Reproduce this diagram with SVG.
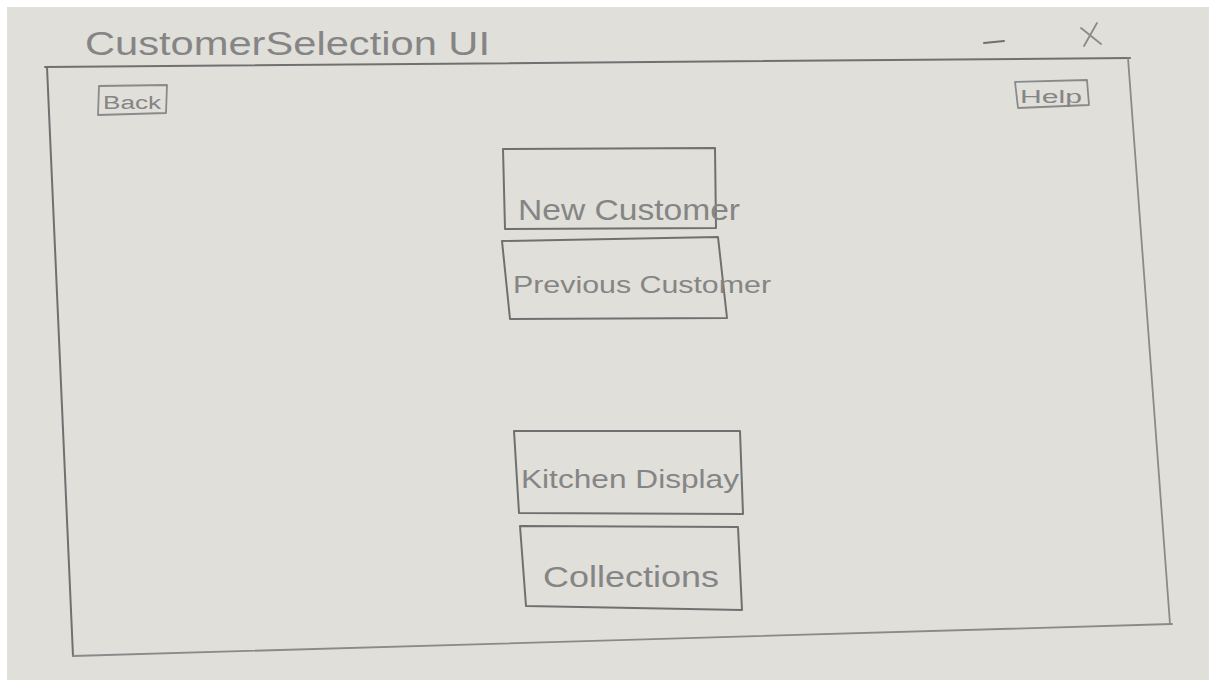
<svg xmlns="http://www.w3.org/2000/svg" width="1209" height="680" viewBox="0 0 1209 680">
<style>
.ln{fill:none;stroke:#707070;stroke-width:2;stroke-linecap:round;stroke-linejoin:round}
.lt{fill:none;stroke:#8a8a8a;stroke-width:1.8;stroke-linecap:round;stroke-linejoin:round}
.tx{font-family:"Liberation Sans",Arial,sans-serif;fill:#858585}
</style>
<rect x="0" y="0" width="1209" height="680" fill="#ffffff"/>
<rect x="7" y="7" width="1202" height="673" fill="#e0dfda"/>
<g id="window">
<path class="ln" d="M45,67 L1130,58"/>
<path class="ln" d="M47,67 L73,656"/>
<path class="lt" d="M1128,58 L1170,624"/>
<path class="lt" d="M73,656 L1172,624"/>
</g>
<g id="title">
<text class="tx" x="85" y="55" font-size="34" textLength="405" lengthAdjust="spacingAndGlyphs">CustomerSelection UI</text>
</g>
<g id="window-controls">
<path class="ln" d="M984,43 L1004,41" stroke-width="3"/>
<path class="lt" d="M1081,28 L1101,44 M1097,23 L1084,46"/>
</g>
<g id="back">
<path class="lt" d="M99,86 L167,85 L166,113 L98,115 Z"/>
<text class="tx" x="103" y="109" font-size="18" textLength="58" lengthAdjust="spacingAndGlyphs">Back</text>
</g>
<g id="help">
<path class="lt" d="M1015,82 L1087,80 L1089,105 L1018,108 Z"/>
<text class="tx" x="1020" y="103" font-size="18" textLength="62" lengthAdjust="spacingAndGlyphs">Help</text>
</g>
<g id="new-customer">
<path class="ln" d="M503,149 L715,148 L716,228 L505,229 Z"/>
<text class="tx" x="518" y="220" font-size="30" textLength="222" lengthAdjust="spacingAndGlyphs">New Customer</text>
</g>
<g id="previous-customer">
<path class="ln" d="M502,241 L718,237 L727,318 L510,319 Z"/>
<text class="tx" x="513" y="293" font-size="24" textLength="258" lengthAdjust="spacingAndGlyphs">Previous Customer</text>
</g>
<g id="kitchen-display">
<path class="ln" d="M514,431 L740,431 L743,514 L519,513 Z"/>
<text class="tx" x="521" y="488" font-size="26" textLength="218" lengthAdjust="spacingAndGlyphs">Kitchen Display</text>
</g>
<g id="collections">
<path class="ln" d="M520,526 L738,527 L742,610 L526,606 Z"/>
<text class="tx" x="543" y="587" font-size="30" textLength="176" lengthAdjust="spacingAndGlyphs">Collections</text>
</g>
</svg>
